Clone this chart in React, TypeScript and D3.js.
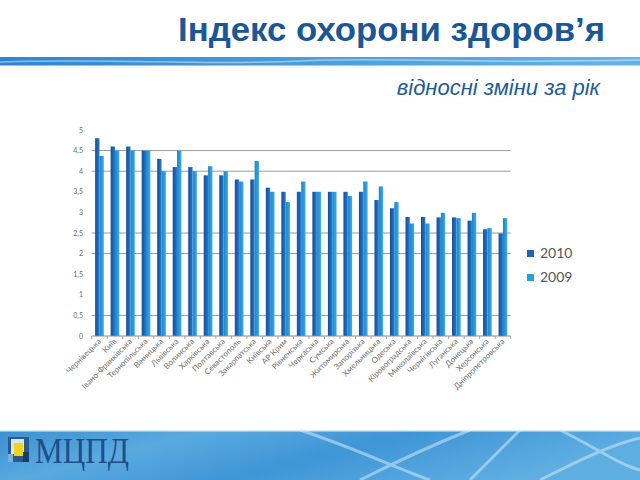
import React from 'react';
import * as d3 from 'd3';

const categories = [
  'Чернівецька', 'Київ', 'Івано-Франківська', 'Тернопільська', 'Вінницька', 'Львівська',
  'Волинська', 'Харківська', 'Полтавська', 'Севастополь', 'Закарпатська', 'Київська',
  'АР Крим', 'Рівненська', 'Черкаська', 'Сумська', 'Житомирська', 'Запорізька',
  'Хмельницька', 'Одеська', 'Кіровоградська', 'Миколаївська', 'Чернігівська', 'Луганська',
  'Донецька', 'Херсонська', 'Дніпропетровська',
];
const values2010 = [
  4.8, 4.6, 4.6, 4.5, 4.3, 4.1, 4.1, 3.9, 3.9, 3.8, 3.8, 3.6, 3.5, 3.5, 3.5, 3.5,
  3.5, 3.5, 3.3, 3.1, 2.89, 2.89, 2.88, 2.88, 2.8, 2.59, 2.49,
];
const values2009 = [
  4.37, 4.5, 4.5, 4.5, 4.0, 4.5, 4.0, 4.12, 4.0, 3.75, 4.25, 3.5, 3.25, 3.75, 3.5, 3.5,
  3.4, 3.75, 3.63, 3.25, 2.73, 2.73, 2.99, 2.86, 2.99, 2.62, 2.86,
];
const seriesNames = ['2010', '2009'];
const yTicks = [0, 0.5, 1, 1.5, 2, 2.5, 3, 3.5, 4, 4.5, 5];
const gridValues = [0.5, 2, 2.5, 4, 4.5];

const W = 640;
const H = 480;
const plot = { left: 91.7, right: 510.7, top: 130, bottom: 336 };

const fmt = (v: number) => String(v).replace('.', ',');

export default function App() {
  const x = d3.scaleBand<string>()
    .domain(categories)
    .range([plot.left, plot.right])
    .paddingInner(0.44)
    .paddingOuter(0.22);
  const xs = d3.scaleBand<string>().domain(seriesNames).range([0, x.bandwidth()]);
  const y = d3.scaleLinear().domain([0, 5]).range([plot.bottom, plot.top]);
  const series = [values2010, values2009];
  const step = x.step();
  const boundaries = d3.range(categories.length + 1).map(
    (i) => plot.left + i * step
  );

  const wave1 = 'M0,62 C120,58 200,66 300,61 C380,57 460,64 640,60';
  const wave2 = 'M300,430 C360,450 400,470 430,480 M470,430 C420,450 380,470 360,480 M520,430 C500,450 480,470 470,480 M560,430 C600,450 620,465 640,470 M540,480 C580,460 610,445 640,438';

  return (
    <svg width={W} height={H} style={{ position: 'absolute', left: 0, top: 0 }}>
      <defs>
        <linearGradient id="band" x1="0" x2="1" y1="0" y2="0">
          <stop offset="0" stopColor="#2d86cf" />
          <stop offset="0.5" stopColor="#4a9ede" />
          <stop offset="1" stopColor="#66b4e6" />
        </linearGradient>
        <linearGradient id="bottom" x1="0" x2="1" y1="0" y2="0.3">
          <stop offset="0" stopColor="#3b8fd0" />
          <stop offset="0.3" stopColor="#5aaae0" />
          <stop offset="0.6" stopColor="#3f95d5" />
          <stop offset="1" stopColor="#5eaee2" />
        </linearGradient>
        <linearGradient id="g2010" x1="0" x2="1" y1="0" y2="0">
          <stop offset="0" stopColor="#124f9c" />
          <stop offset="0.6" stopColor="#1f66ba" />
          <stop offset="1" stopColor="#2c79c9" />
        </linearGradient>
        <linearGradient id="g2009" x1="0" x2="1" y1="0" y2="0">
          <stop offset="0" stopColor="#1a86c8" />
          <stop offset="0.6" stopColor="#2b9cdb" />
          <stop offset="1" stopColor="#41b0e8" />
        </linearGradient>
      </defs>
      <rect width={W} height={H} fill="#fff" />

      {/* header */}
      <text x={605} y={41} textAnchor="end" fontFamily="Liberation Sans, Arial, sans-serif"
        fontWeight="bold" fontSize={33} fill="#1b5796" textLength={427}
        lengthAdjust="spacingAndGlyphs">Індекс охорони здоров’я</text>
      <rect x={0} y={57} width={W} height={8.5} fill="url(#band)" />
      <path d={wave1} fill="none" stroke="#fff" strokeOpacity={0.45} strokeWidth={1.5} />
      <text x={600} y={95} textAnchor="end" fontFamily="Liberation Sans, Arial, sans-serif"
        fontStyle="italic" fontSize={22} fill="#1c5a9e">відносні зміни за рік</text>

      {/* grid */}
      {gridValues.map((v) => (
        <line key={v} x1={plot.left} x2={plot.right} y1={y(v)} y2={y(v)} stroke="#9a9a9a" strokeWidth={1} />
      ))}

      {/* bars */}
      {series.map((vals, si) => (
        <g key={seriesNames[si]}>
          {vals.map((v, i) => (
            <rect key={i}
              x={(x(categories[i]) ?? 0) + (xs(seriesNames[si]) ?? 0)}
              y={y(v)}
              width={xs.bandwidth()}
              height={y(0) - y(v)}
              fill={si === 0 ? 'url(#g2010)' : 'url(#g2009)'} />
          ))}
        </g>
      ))}

      {/* axis */}
      <line x1={plot.left} x2={plot.right} y1={plot.bottom} y2={plot.bottom} stroke="#8a8a8a" />
      {boundaries.map((bx, i) => (
        <line key={i} x1={bx} x2={bx} y1={plot.bottom} y2={plot.bottom + 3} stroke="#a0a0a0" />
      ))}
      {yTicks.map((v) => (
        <text key={v} x={83} y={y(v) + 2.5} textAnchor="end" fontFamily="Lato, sans-serif"
          fontSize={7} fill="#6a6a6a">{fmt(v)}</text>
      ))}
      {categories.map((c) => {
        const cx = (x(c) ?? 0) + x.bandwidth() / 2 + 2;
        const cy = plot.bottom + 6;
        return (
          <text key={c} x={cx} y={cy} textAnchor="end" fontFamily="Lato, sans-serif" fontSize={8}
            fill="#707070" transform={`rotate(-45 ${cx} ${cy})`}>{c}</text>
        );
      })}

      {/* legend */}
      {seriesNames.map((s, i) => (
        <g key={s} transform={`translate(527, ${250 + i * 24})`}>
          <rect width={7} height={7} fill={i === 0 ? '#1f63b6' : '#28a0dc'} />
          <text x={13} y={8} fontFamily="Lato, sans-serif" fontSize={14} fill="#555">{s}</text>
        </g>
      ))}

      {/* footer */}
      <rect x={0} y={430} width={W} height={50} fill="url(#bottom)" />
      <path d={wave2} fill="none" stroke="#cfeaf8" strokeOpacity={0.55} strokeWidth={3} />
      <rect x={0} y={430} width={W} height={1.5} fill="#d7ecf8" />
      <g transform="translate(8,437)">
        <rect width={21} height={25} fill="#2a5a8c" />
        <rect x={3} y={2} width={13} height={15} fill="#d8e6f0" />
        <rect x={6} y={6} width={9} height={13} fill="#f2d21a" />
        <rect x={15} y={15} width={6} height={10} fill="#1b3c66" />
        <rect x={0} y={17} width={5} height={8} fill="#7fb0d8" />
      </g>
      <text x={35} y={463} fontFamily="Liberation Serif, Times New Roman, serif" fontSize={35}
        fill="#1e4f8a" textLength={94} lengthAdjust="spacingAndGlyphs">МЦПД</text>
    </svg>
  );
}
